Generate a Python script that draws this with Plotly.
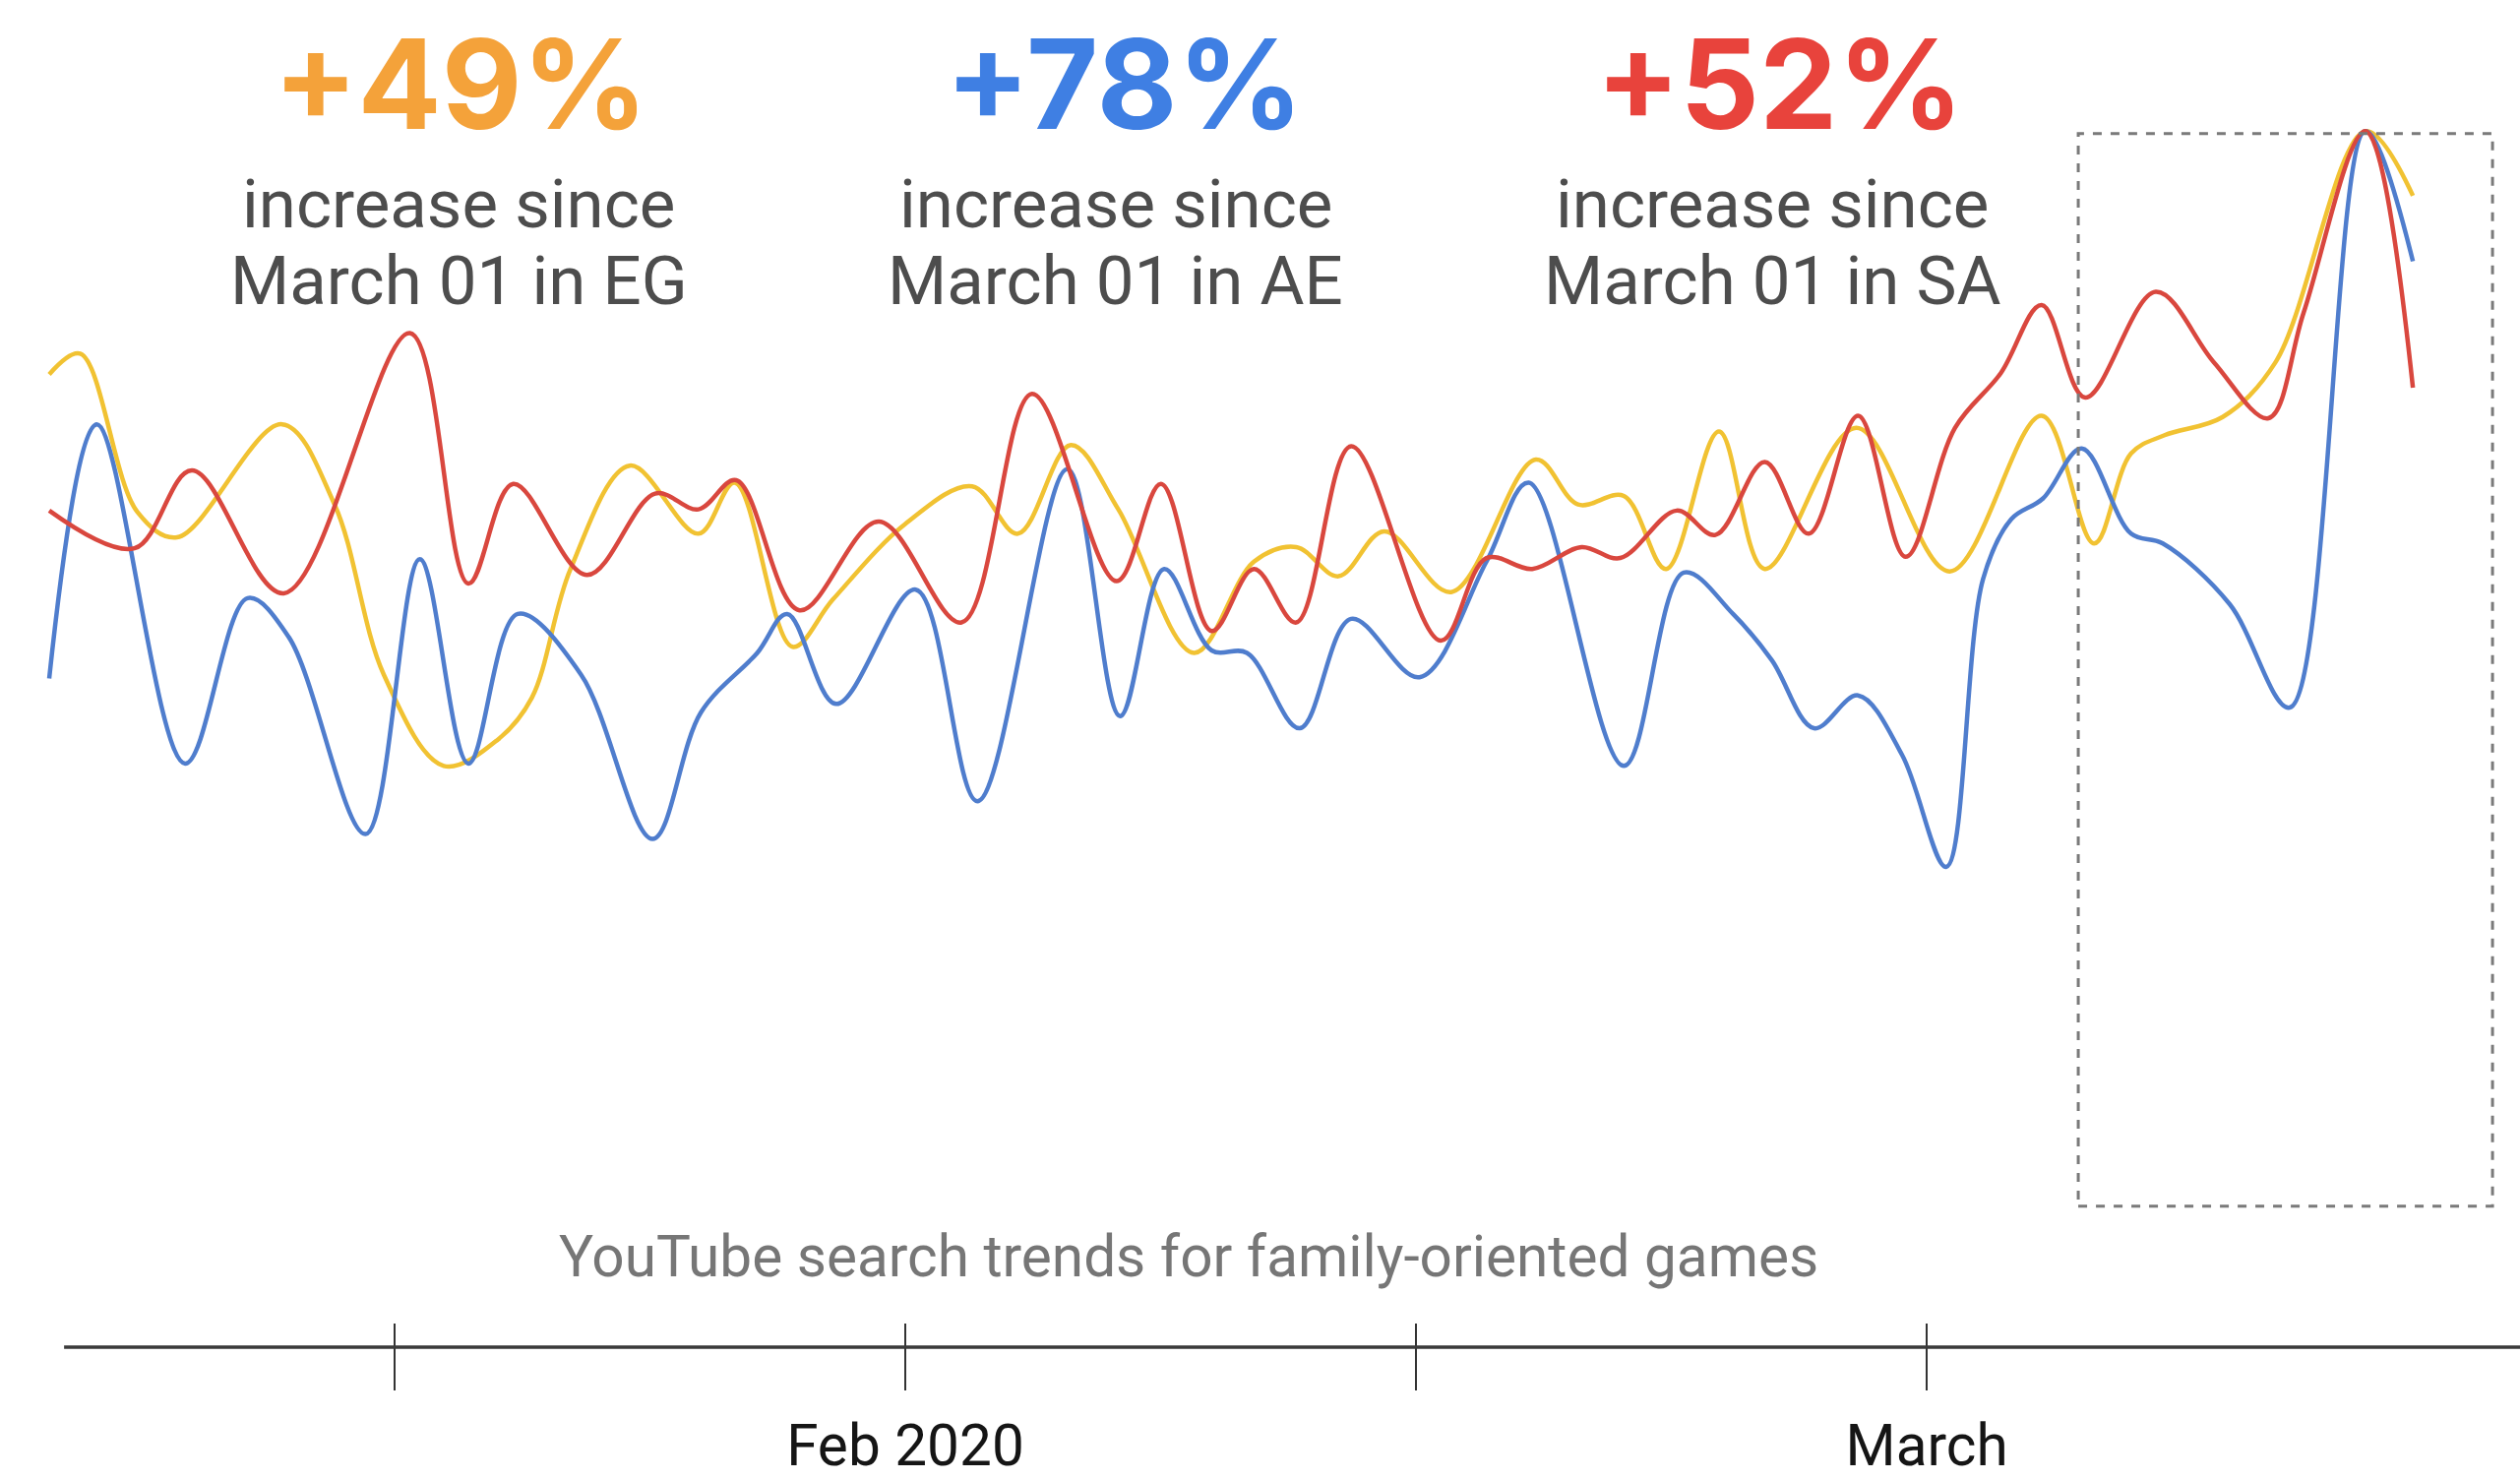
import plotly.graph_objects as go

# Day numbers counted from 1 Jan 2020 (1 Feb = 31, 1 Mar = 60); values are a 0-100 search index.
eg_days = [6.7, 7.58, 9.2, 10.33, 13.31, 14.8, 16.2, 17.9, 19.45, 20.4, 21.5, 23.18, 25.13, 26.16,
           27.8, 28.95, 31.0, 32.9, 34.2, 35.7, 37.05, 39.2, 40.9, 42.1, 43.3, 44.6, 46.5, 48.9,
           50.1, 51.4, 52.6, 54.1, 55.4, 58.0, 60.65, 63.26, 64.75, 65.8, 66.75, 68.4, 69.9,
           72.45, 73.8]
eg_vals = [80.0, 81.7, 68.7, 66.6, 75.9, 69.3, 55.3, 47.8, 50.0, 53.4, 64.0, 72.5, 66.9, 71.1,
           57.6, 61.5, 67.7, 70.8, 66.9, 74.2, 68.9, 57.1, 64.6, 65.8, 63.4, 67.1, 62.1, 73.0,
           69.3, 70.0, 64.0, 75.3, 64.0, 75.6, 63.8, 76.6, 66.1, 73.5, 75.0, 76.5, 81.0,
           100.0, 94.7]

ae_days = [6.7, 8.05, 10.56, 12.33, 13.5, 15.68, 17.22, 18.6, 20.0, 21.8, 23.83, 25.2, 26.8,
           27.65, 29.04, 31.3, 33.05, 35.6, 37.1, 38.35, 39.7, 40.7, 42.2, 43.66, 45.6, 47.5,
           48.7, 51.4, 53.1, 54.5, 55.6, 56.8, 58.05, 59.3, 60.55, 61.6, 62.4, 63.3, 64.4,
           65.8, 66.7, 68.6, 70.3, 72.45, 73.8]
ae_vals = [55.0, 75.9, 48.0, 61.6, 58.4, 42.2, 64.8, 48.0, 60.3, 55.3, 41.8, 52.2, 57.1,
           60.3, 52.9, 62.3, 44.9, 72.2, 51.9, 64.0, 57.3, 57.1, 50.9, 59.9, 55.1, 64.6,
           71.1, 47.8, 63.7, 60.3, 56.5, 50.9, 53.6, 48.7, 39.5, 63.2, 68.1, 69.8, 73.9,
           66.9, 66.1, 61.1, 52.6, 100.0, 89.3]

sa_days = [6.7, 9.12, 10.75, 13.36, 16.94, 18.6, 19.87, 21.97, 23.9, 25.13, 26.2, 28.0, 30.25,
           32.6, 34.6, 37.0, 38.26, 39.7, 40.9, 42.1, 43.66, 46.2, 47.5, 48.8, 50.2, 51.3,
           52.9, 54.0, 55.4, 56.65, 58.05, 59.4, 60.8, 62.1, 63.26, 64.5, 66.5, 68.15, 69.7,
           70.7, 72.45, 73.8]
sa_vals = [68.8, 65.7, 72.1, 62.0, 83.4, 62.8, 71.0, 63.5, 70.2, 68.9, 71.3, 60.6, 67.9,
           59.6, 78.4, 63.0, 71.0, 58.9, 64.0, 59.6, 74.1, 58.1, 64.9, 64.0, 65.8, 64.9,
           68.8, 66.8, 72.8, 66.9, 76.6, 65.0, 75.6, 80.1, 85.7, 78.1, 86.8, 81.0, 76.4,
           85.1, 100.0, 78.9]

tick_days = [16.5, 31, 45.5, 60]
tick_text = ["", "Feb 2020", "", "March"]

headlines = ["+49%", "+78%", "+52%"]
countries = ["EG", "AE", "SA"]
headline_colors = ["#F4A23A", "#3F7FE3", "#E8433C"]

YELLOW = "#F1C232"
BLUE = "#4F7DCD"
RED = "#D9473E"
FONT = "Roboto"
HEAD_FONT = "Inter"

fig = go.Figure()
for days, vals, color, name in [(eg_days, eg_vals, YELLOW, "EG"),
                                (ae_days, ae_vals, BLUE, "AE"),
                                (sa_days, sa_vals, RED, "SA")]:
    fig.add_trace(go.Scatter(x=days, y=vals, mode="lines", name=name,
                             line=dict(color=color, width=4.5, shape="spline", smoothing=1.0),
                             hoverinfo="skip", showlegend=False))

# empty trace so the overlaid axis (upper half of the tick marks) is drawn
fig.add_trace(go.Scatter(x=[], y=[], xaxis="x2", showlegend=False, hoverinfo="skip"))

x_range = [6.56, 76.84]

# headline blocks
hx = [0.1685, 0.4364, 0.7011]
sx = [0.1674, 0.4328, 0.698]
annotations = []
for i in range(3):
    annotations.append(dict(text="<b>%s</b>" % headlines[i], x=hx[i], y=1.0287, xref="paper", yref="paper",
                            showarrow=False, xanchor="center", yanchor="middle",
                            font=dict(family=HEAD_FONT, size=126, color=headline_colors[i])))
    annotations.append(dict(text="increase since", x=sx[i], y=0.9305, xref="paper", yref="paper",
                            showarrow=False, xanchor="center", yanchor="middle",
                            font=dict(family=FONT, size=69, color="#4d4d4d")))
    annotations.append(dict(text="March 01 in %s" % countries[i], x=sx[i], y=0.8680, xref="paper",
                            yref="paper", showarrow=False, xanchor="center", yanchor="middle",
                            font=dict(family=FONT, size=69, color="#4d4d4d")))

annotations.append(dict(text="YouTube search trends for family-oriented games", x=0.4622, y=0.0737,
                        xref="paper", yref="paper", showarrow=False, xanchor="center", yanchor="middle",
                        font=dict(family=FONT, size=58.5, color="#767676")))

shapes = [
    # baseline of the time axis
    dict(type="line", xref="paper", yref="paper", x0=0.008, x1=1.0, y0=0, y1=0,
         line=dict(color="#3a3a3a", width=3.5)),
    # dashed highlight around the last two weeks
    dict(type="rect", xref="x", yref="y", x0=64.3, x1=76.06, y0=11.6, y1=99.8,
         line=dict(color="#7a7a7a", width=3, dash="dash"), fillcolor="rgba(0,0,0,0)"),
]

fig.update_layout(
    width=2561, height=1504,
    margin=dict(l=45, r=0, t=121, b=135, autoexpand=False),
    paper_bgcolor="white", plot_bgcolor="white",
    showlegend=False,
    xaxis=dict(range=x_range, showgrid=False, zeroline=False, showline=False, automargin=False,
               tickmode="array", tickvals=tick_days, ticktext=tick_text,
               ticks="outside", ticklen=43, tickwidth=2, tickcolor="#333333",
               ticklabelstandoff=6,
               tickfont=dict(family=FONT, size=58.5, color="#151515")),
    xaxis2=dict(range=x_range, overlaying="x", anchor="y", side="bottom", automargin=False,
                showgrid=False, zeroline=False, showline=False,
                tickmode="array", tickvals=tick_days, ticktext=["", "", "", ""],
                ticks="inside", ticklen=24, tickwidth=2, tickcolor="#333333",
                showticklabels=False),
    yaxis=dict(range=[0, 101], visible=False, fixedrange=True, automargin=False),
    annotations=annotations,
    shapes=shapes,
)

fig.write_html("out.html")
